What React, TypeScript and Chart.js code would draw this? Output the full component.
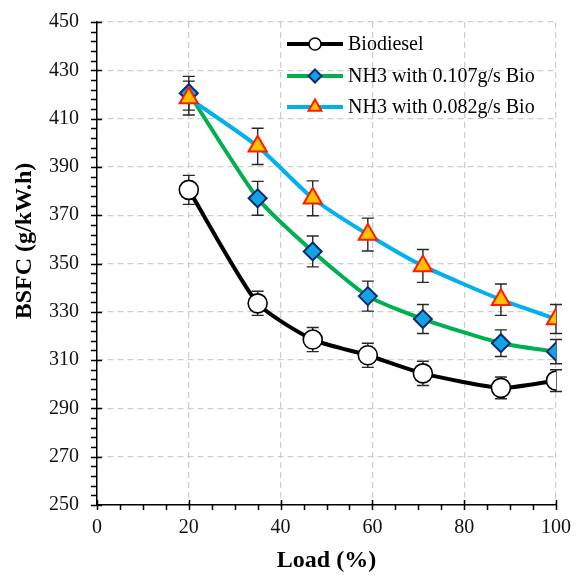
import React, { useEffect, useRef } from "react";
import { Chart, registerables } from "chart.js";

Chart.register(...registerables);

const loads = [20, 35, 47, 59, 71, 88, 100];
const biodiesel = [380.5, 333.5, 318.5, 312, 304.5, 298.5, 301.5];
const biodieselErr = [6, 5, 5, 5, 5, 4.5, 4.5];
const nh3_107 = [420.5, 377, 355, 336.5, 327, 317, 313.5];
const nh3_107Err = [7, 7, 6.4, 6.2, 6, 5.5, 5];
const nh3_082 = [418.5, 398.5, 377, 362, 349, 335, 327];
const nh3_082Err = [7, 7.5, 7.2, 6.8, 6.8, 6.5, 6];
const seriesNames = ["Biodiesel", "NH3 with 0.107g/s Bio", "NH3 with 0.082g/s Bio"];
const yTitle = "BSFC (g/kW.h)";
const xTitle = "Load (%)";
const xTickStep = 20;
const yTickStep = 20;
const xMinorStep = 5;
const yMinorStep = 4;

const FONT = "'Liberation Serif', 'Times New Roman', serif";

const styles = [
  { line: "#000000", fill: "#ffffff", border: "#000000", point: "circle", radius: 9.5, legendRadius: 6, bw: 1.6 },
  { line: "#00b050", fill: "#12a3e6", border: "#0a2a6e", point: "rectRot", radius: 9, legendRadius: 6.5, bw: 2 },
  { line: "#00b0f0", fill: "#ffc000", border: "#ff1a00", point: "triangle", radius: 10.5, legendRadius: 7.5, bw: 2 },
];

function drawMarker(ctx: CanvasRenderingContext2D, style: string, x: number, y: number, r: number) {
  ctx.beginPath();
  if (style === "circle") {
    ctx.arc(x, y, r, 0, Math.PI * 2);
  } else if (style === "rectRot") {
    ctx.moveTo(x, y - r);
    ctx.lineTo(x + r, y);
    ctx.lineTo(x, y + r);
    ctx.lineTo(x - r, y);
    ctx.closePath();
  } else {
    const a = (2 * Math.PI) / 3;
    ctx.moveTo(x, y - r);
    ctx.lineTo(x + Math.sin(a) * r, y - Math.cos(a) * r);
    ctx.lineTo(x + Math.sin(2 * a) * r, y - Math.cos(2 * a) * r);
    ctx.closePath();
  }
  ctx.fill();
  ctx.stroke();
}

const errors = [biodieselErr, nh3_107Err, nh3_082Err];
const values = [biodiesel, nh3_107, nh3_082];

const errorBarPlugin = {
  id: "errorBars",
  beforeDatasetsDraw(chart: any) {
    const ctx = chart.ctx;
    const xs = chart.scales.x;
    const ys = chart.scales.y;
    ctx.save();
    ctx.strokeStyle = "#262626";
    ctx.lineWidth = 1.4;
    values.forEach((vals, si) => {
      vals.forEach((v, i) => {
        const x = xs.getPixelForValue(loads[i]);
        const e = errors[si][i];
        const y1 = ys.getPixelForValue(v + e);
        const y2 = ys.getPixelForValue(v - e);
        ctx.beginPath();
        ctx.moveTo(x, y1);
        ctx.lineTo(x, y2);
        ctx.moveTo(x - 6, y1);
        ctx.lineTo(x + 6, y1);
        ctx.moveTo(x - 6, y2);
        ctx.lineTo(x + 6, y2);
        ctx.stroke();
      });
    });
    ctx.restore();
  },
};

const axesPlugin = {
  id: "axesTicks",
  afterDraw(chart: any) {
    const ctx = chart.ctx;
    const xs = chart.scales.x;
    const ys = chart.scales.y;
    const { left, bottom } = chart.chartArea;
    ctx.save();
    ctx.strokeStyle = "#000";
    ctx.lineWidth = 1.5;
    ctx.beginPath();
    for (let v = xs.min; v <= xs.max + 1e-9; v += xMinorStep) {
      const x = Math.round(xs.getPixelForValue(v)) + 0.5;
      const major = Math.abs(v % xTickStep) < 1e-9;
      ctx.moveTo(x, bottom + 5);
      ctx.lineTo(x, bottom - (major ? 5 : 0));
    }
    for (let v = ys.min; v <= ys.max + 1e-9; v += yMinorStep) {
      const y = Math.round(ys.getPixelForValue(v)) + 0.5;
      const major = Math.abs((v - ys.min) % yTickStep) < 1e-9;
      ctx.moveTo(left - 6, y);
      ctx.lineTo(left + (major ? 5 : 0), y);
    }
    ctx.stroke();

    // y-axis title
    ctx.save();
    ctx.translate(24.4, 241);
    ctx.rotate(-Math.PI / 2);
    ctx.font = `bold 24px ${FONT}`;
    ctx.textAlign = "center";
    ctx.textBaseline = "middle";
    ctx.fillStyle = "#000";
    ctx.fillText(yTitle, 0, 0);
    ctx.restore();

    // legend
    const rows = [44, 76, 107];
    const x0 = 287;
    const x1 = 343;
    const xm = 315;
    ctx.font = `20px ${FONT}`;
    ctx.textBaseline = "middle";
    ctx.textAlign = "left";
    ctx.fillStyle = "#000";
    styles.forEach((s, i) => {
      const y = rows[i];
      ctx.strokeStyle = s.line;
      ctx.lineWidth = 4;
      ctx.beginPath();
      ctx.moveTo(x0, y);
      ctx.lineTo(x1, y);
      ctx.stroke();
      ctx.fillStyle = s.fill;
      ctx.strokeStyle = s.border;
      ctx.lineWidth = s.bw;
      drawMarker(ctx, s.point, xm, y, s.legendRadius);
      ctx.fillStyle = "#000";
      ctx.fillText(seriesNames[i], 348, y + 1);
    });
    ctx.restore();
  },
};

const zeroPad = (s: any) => {
  s.paddingTop = 0;
  s.paddingBottom = 0;
  s.paddingLeft = 0;
  s.paddingRight = 0;
};

export default function App() {
  const ref = useRef<HTMLCanvasElement>(null);
  useEffect(() => {
    if (!ref.current) return;
    const mk = (i: number, data: number[], order: number) => ({
      label: seriesNames[i],
      data: loads.map((x, k) => ({ x, y: data[k] })),
      borderColor: styles[i].line,
      borderWidth: 4,
      backgroundColor: styles[i].fill,
      pointBackgroundColor: styles[i].fill,
      pointBorderColor: styles[i].border,
      pointBorderWidth: styles[i].bw,
      pointStyle: styles[i].point,
      pointRadius: styles[i].radius,
      pointHoverRadius: styles[i].radius,
      tension: 0.2,
      order,
    });
    const chart = new Chart(ref.current, {
      type: "line",
      data: {
        datasets: [mk(0, biodiesel, 0), mk(1, nh3_107, 2), mk(2, nh3_082, 1)],
      },
      options: {
        animation: false,
        responsive: false,
        layout: { autoPadding: false, padding: { top: 22, right: 21, left: 0, bottom: 0 } },
        plugins: { legend: { display: false }, tooltip: { enabled: false } },
        scales: {
          x: {
            type: "linear",
            min: 0,
            max: 100,
            ticks: { stepSize: xTickStep, color: "#111", font: { size: 20, family: FONT }, padding: 11, maxRotation: 0 },
            grid: { color: "#cfcfcf", lineWidth: 1.3, drawTicks: false },
            border: { display: true, color: "#000", width: 1.5, dash: [6, 4] },
            title: { display: true, text: xTitle, color: "#000", font: { size: 24, weight: "bold", family: FONT }, padding: { top: 0, bottom: 3 } },
            afterFit: (s: any) => { s.height = 73; zeroPad(s); },
          },
          y: {
            min: 250,
            max: 450,
            ticks: { stepSize: yTickStep, color: "#111", font: { size: 20, family: FONT }, padding: 18 },
            grid: { color: "#cfcfcf", lineWidth: 1.3, drawTicks: false },
            border: { display: true, color: "#000", width: 1.5, dash: [6, 4] },
            title: { display: false },
            afterFit: (s: any) => { s.width = 97; zeroPad(s); },
          },
        },
      },
      plugins: [errorBarPlugin, axesPlugin],
    });
    return () => chart.destroy();
  }, []);
  return (
    <div style={{ position: "fixed", left: 0, top: 0, width: 577, height: 578, background: "#fff" }}>
      <canvas ref={ref} width={577} height={578} style={{ display: "block" }} />
    </div>
  );
}
